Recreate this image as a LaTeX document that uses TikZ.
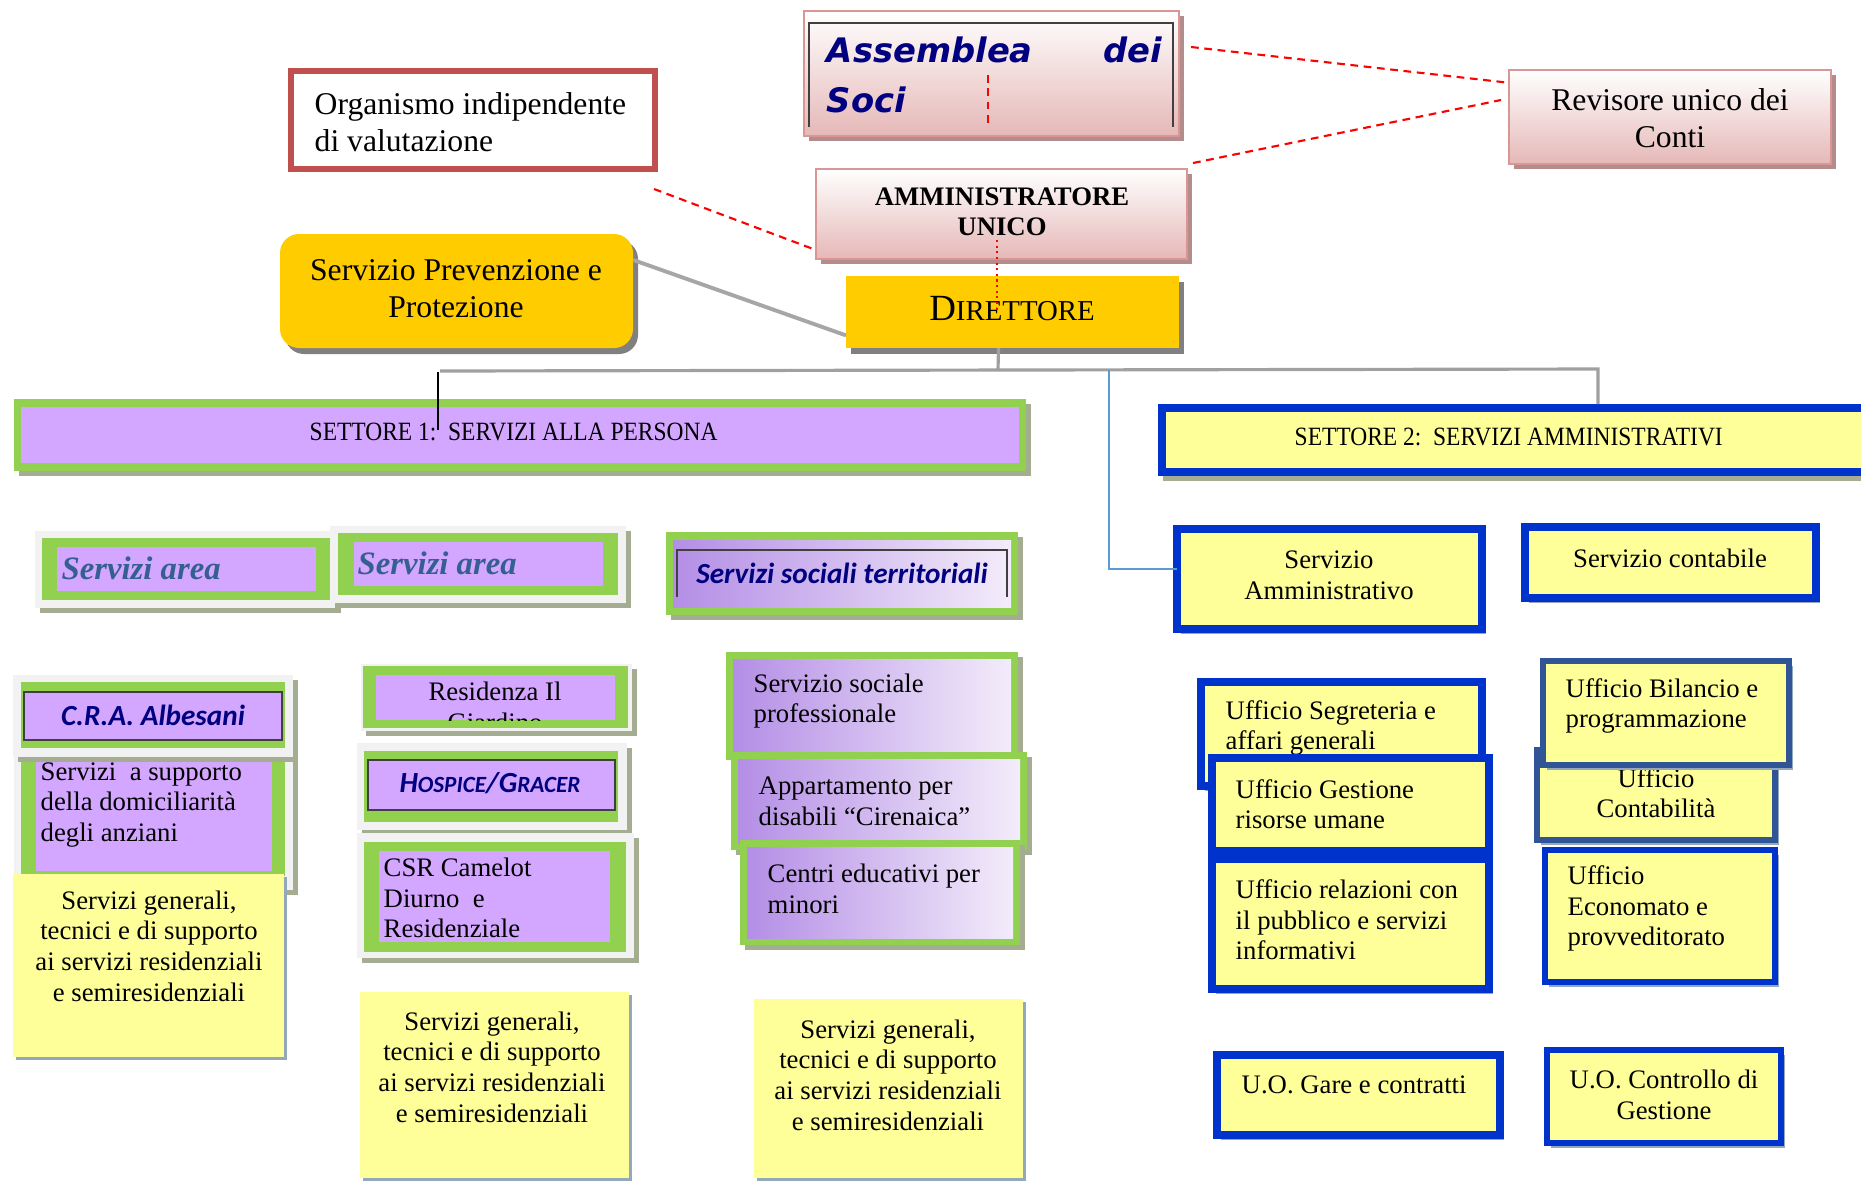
\documentclass[tikz,border=0pt]{standalone}
\usepackage{fontspec}
\setmainfont{Liberation Serif}
\newfontfamily\narrowserif{Liberation Serif}[FakeStretch=0.89]
\newfontfamily\calfont{Carlito}
\newfontfamily\assfont{DejaVu Sans Bold Oblique}
\usetikzlibrary{shadows,fit}

\definecolor{spgold}{HTML}{FFCC00}
\definecolor{grn}{HTML}{92D050}
\definecolor{lav}{HTML}{D3A6FF}
\definecolor{lavdk}{HTML}{B48EE6}
\definecolor{lavlt}{HTML}{F3ECFA}
\definecolor{yel}{HTML}{FFFF99}
\definecolor{blu}{HTML}{0033CC}
\definecolor{steel}{HTML}{2F5597}
\definecolor{frm}{HTML}{F2F2F2}
\definecolor{oliv}{HTML}{A4AD92}
\definecolor{pinkln}{HTML}{D99694}
\definecolor{pinkbt}{HTML}{E5B8B7}
\definecolor{pinksh}{HTML}{B48C8C}
\definecolor{bgray}{HTML}{93A8B8}
\definecolor{orgred}{HTML}{C0504D}
\definecolor{txtnavy}{HTML}{000080}
\definecolor{areablue}{HTML}{365F91}
\definecolor{treegray}{HTML}{A0A0A0}
\definecolor{linkblue}{HTML}{5B9BD5}

\tikzset{
  plainbox/.style={inner sep=0pt, outer sep=0pt},
  oshadow/.style={drop shadow={shadow xshift=0.05cm, shadow yshift=-0.05cm, fill=oliv, opacity=1}},
  pinkbox/.style={plainbox, draw=pinkln, line width=0.8pt, top color=white, bottom color=pinkbt,
    drop shadow={shadow xshift=0.05cm, shadow yshift=-0.05cm, fill=pinksh, opacity=1}},
  goldbox/.style={plainbox, fill=spgold,
    drop shadow={shadow xshift=0.05cm, shadow yshift=-0.06cm, fill=gray, opacity=1}},
  framebox/.style={plainbox, fill=frm, oshadow},
  greenfill/.style={plainbox, fill=grn},
  lavfill/.style={plainbox, fill=lav},
  lavgrad/.style={plainbox, left color=lavdk, right color=lavlt},
  bluebox/.style={plainbox, draw=blu, line width=0.08cm, fill=yel,
    drop shadow={shadow xshift=0.04cm, shadow yshift=-0.05cm, fill=bgray, opacity=1}},
  notebox/.style={plainbox, fill=yel,
    drop shadow={shadow xshift=0.03cm, shadow yshift=-0.03cm, fill=bgray, opacity=1}},
  txt/.style={inner sep=0pt, font=\fontsize{7.6}{8.7}\selectfont, align=left},
  bigtxt/.style={inner sep=0pt, font=\fontsize{9}{10.5}\selectfont, align=center},
  areatxt/.style={inner sep=0pt, text=areablue, font=\bfseries\itshape\fontsize{9.3}{11}\selectfont},
  caltxt/.style={inner sep=0pt, text=txtnavy, font=\calfont\bfseries\itshape\fontsize{8.3}{10}\selectfont},
  reddash/.style={red, line width=0.6pt, dash pattern=on 2.2pt off 1.6pt},
  reddot/.style={red, line width=0.6pt, densely dotted},
  tree/.style={treegray, line width=0.9pt},
  sppline/.style={gray!70, line width=1.1pt},
  blueline/.style={linkblue, line width=0.5pt}
}

\begin{document}
\begin{tikzpicture}[x=0.01cm, y=-0.01cm]
\useasboundingbox (0,0) rectangle (1861,1181);
\fill[white] (0,0) rectangle (1861,1181);

\node[pinkbox, fit={(804,11)(1179,136)}] (ass) {};
\draw[darkgray, line width=0.6pt] (809,127) -- (809,23) -- (1173,23) -- (1173,127);
\node[inner sep=0pt, text=txtnavy, font=\assfont\fontsize{9.6}{14.2}\selectfont,
  text width=3.35cm, align=justify] (asst) at (994.5,75) {Assemblea dei\linebreak Soci};

\node[pinkbox, fit={(1509,70)(1831,164)}] (rev) {};
\node[bigtxt] (revt) at (1670,118.5) {Revisore unico dei\\Conti};

\node[plainbox, draw=orgred, line width=0.06cm, fill=white, fit={(291,71)(655,169)}] (org) {};
\node[bigtxt, align=left, anchor=west] (orgt) at (314,122.5) {Organismo indipendente\\di valutazione};

\node[pinkbox, fit={(816,169)(1187,259)}] (amm) {};
\node[inner sep=0pt, font=\bfseries\fontsize{7.6}{8.5}\selectfont, align=center] (ammt) at (1002,211.5) {AMMINISTRATORE\\UNICO};

\node[goldbox, rounded corners=0.19cm, fit={(280,234)(633,348)}] (spp) {};
\node[bigtxt] (sppt) at (456,288.5) {Servizio Prevenzione e\\Protezione};

\node[goldbox, fit={(846,276)(1179,348)}] (dir) {};
\node[inner sep=0pt, anchor=base] (dirt) at (1012,320) {{\fontsize{10.5}{12}\selectfont D}{\fontsize{8.2}{10}\selectfont IRETTORE}};

\node[greenfill, oshadow, fit={(14,399)(1026,471)}] (set1) {};
\node[lavfill, fit={(21,407)(1019,463)}] (set1in) {};
\node[inner sep=0pt, anchor=west, font=\narrowserif\fontsize{7.5}{9}\selectfont] (set1t) at (309,432) {SETTORE 1:\ \ SERVIZI ALLA PERSONA};

\node[plainbox, fill=blu, oshadow, fit={(1158,404)(1900,476)}] (set2) {};
\node[plainbox, fill=yel, fit={(1166,412)(1892,468)}] (set2in) {};
\node[inner sep=0pt, anchor=west, font=\narrowserif\fontsize{7.5}{9}\selectfont] (set2t) at (1294,437) {SETTORE 2:\ \ SERVIZI AMMINISTRATIVI};

\node[framebox, fit={(35,531)(336,608)}] (area1f) {};
\node[greenfill, fit={(42,538)(330,600)}] (area1g) {};
\node[lavfill, fit={(57,547)(316,591)}] (area1) {};
\node[areatxt, anchor=west] (area1t) at (61,568) {Servizi area};

\node[framebox, fit={(330,526)(626,603)}] (area2f) {};
\node[greenfill, fit={(338,533)(618,595)}] (area2g) {};
\node[lavfill, fit={(354,542)(603,586)}] (area2) {};
\node[areatxt, anchor=west] (area2t) at (357,563) {Servizi area};

\node[greenfill, oshadow, fit={(666,532)(1018,615)}] (sstg) {};
\node[lavgrad, fit={(673,540)(1011,607)}] (sst) {};
\draw[darkgray, line width=0.6pt] (677,597) -- (677,550) -- (1007,550) -- (1007,597);
\node[caltxt] (sstt) at (842,573) {Servizi sociali territoriali};

\node[greenfill, oshadow, fit={(726,652)(1018,760)}] (sprofg) {};
\node[lavgrad, fit={(733,659)(1011,752)}] (sprof) {};
\node[txt, anchor=west] (sproft) at (753,701) {Servizio sociale\\professionale};
\node[greenfill, oshadow, fit={(731,752)(1027,850)}] (appg) {};
\node[lavgrad, fit={(738,759)(1020,843)}] (app) {};
\node[txt, anchor=west] (appt) at (758,801) {Appartamento per\\disabili “Cirenaica”};
\node[greenfill, oshadow, fit={(740,840)(1020,945)}] (centrig) {};
\node[lavgrad, fit={(747,847)(1013,938)}] (centri) {};
\node[txt, anchor=west] (centrit) at (767,889) {Centri educativi per\\minori};

\node[framebox, fit={(14,745)(293,890)}] (supf) {};
\node[greenfill, fit={(21,745)(285,876)}] (supg) {};
\node[lavfill, fit={(36,745)(272,871)}] (sup) {};
\node[txt, anchor=west] (supt) at (40,805) {Servizi\ \ a supporto\\della domiciliarità\\degli anziani};

\node[framebox, fit={(13,675)(293,757)}] (craf) {};
\node[greenfill, fit={(21,682)(285,748)}] (crag) {};
\node[plainbox, draw=darkgray, line width=0.6pt, fill=lav, fit={(24,692)(282,740)}] (cra) {};
\node[caltxt] (crat) at (153,715) {C.R.A. Albesani};

\node[notebox, fit={(13,874)(284,1057)}] (gen1) {};
\node[txt, align=center] (gen1t) at (149,946) {Servizi generali,\\tecnici e di supporto\\ai servizi residenziali\\e semiresidenziali};

\node[framebox, fit={(361,664)(632,731)}] (resf) {};
\node[greenfill, fit={(363,666)(628,728)}] (resg) {};
\node[lavfill, fit={(376,675)(615,720)}] (res) {};
\begin{scope}
\clip (376,675) rectangle (615,720);
\node[txt, align=center] (rest) at (495,707) {Residenza Il\\Giardino};
\end{scope}

\node[framebox, fit={(357,743)(627,830)}] (hosf) {};
\node[greenfill, fit={(364,751)(618,822)}] (hosg) {};
\node[plainbox, draw=darkgray, line width=0.6pt, fill=lav, fit={(368,760)(615,810)}] (hos) {};
\node[caltxt] (host) at (490,783) {H{\fontsize{6.6}{8}\selectfont OSPICE}/G{\fontsize{6.6}{8}\selectfont RACER}};

\node[framebox, fit={(357,833)(634,958)}] (csrf) {};
\node[greenfill, fit={(364,842)(626,952)}] (csrg) {};
\node[lavfill, fit={(379,851)(610,942)}] (csr) {};
\node[txt, anchor=west] (csrt) at (383,898) {CSR Camelot\\Diurno\ \ e\\Residenziale};

\node[notebox, fit={(360,992)(629,1178)}] (gen2) {};
\node[txt, align=center] (gen2t) at (492,1067) {Servizi generali,\\tecnici e di supporto\\ai servizi residenziali\\e semiresidenziali};
\node[notebox, fit={(754,999)(1023,1178)}] (gen3) {};
\node[txt, align=center] (gen3t) at (888,1075) {Servizi generali,\\tecnici e di supporto\\ai servizi residenziali\\e semiresidenziali};

\node[bluebox, fit={(1177,529)(1482,629)}] (samm) {};
\node[txt, align=center] (sammt) at (1329,575.5) {Servizio\\Amministrativo};
\node[bluebox, fit={(1525,527)(1816,598)}] (scont) {};
\node[txt] (scontt) at (1670,558) {Servizio contabile};

\node[bluebox, fit={(1201,682)(1482,786)}] (segr) {};
\node[txt, anchor=west] (segrt) at (1225,728) {Ufficio Segreteria e\\affari generali};
\node[bluebox, fit={(1212,758)(1489,851)}] (gest) {};
\node[txt, anchor=west] (gestt) at (1235,804) {Ufficio Gestione\\risorse umane};
\node[bluebox, fit={(1212,859)(1489,989)}] (rel) {};
\node[txt, anchor=west] (relt) at (1235,920) {Ufficio relazioni con\\il pubblico e servizi\\informativi};

\node[bluebox, draw=steel, line width=0.06cm, fit={(1537,750)(1775,840)}] (contab) {};
\node[txt, align=center] (contabt) at (1656,793) {Ufficio\\Contabilità};
\node[bluebox, draw=steel, line width=0.06cm, fit={(1543,661)(1789,765)}] (bil) {};
\node[txt, anchor=west] (bilt) at (1565,706) {Ufficio Bilancio e\\programmazione};
\node[bluebox, line width=0.06cm, fit={(1545,850)(1775,982)}] (econ) {};
\node[txt, anchor=west] (econt) at (1567,908.5) {Ufficio\\Economato e\\provveditorato};

\node[bluebox, fit={(1217,1055)(1500,1135)}] (gare) {};
\node[txt, anchor=west] (garet) at (1241,1085) {U.O. Gare e contratti};
\node[bluebox, line width=0.06cm, fit={(1547,1050)(1781,1143)}] (ctrl) {};
\node[txt, align=center] (ctrlt) at (1664,1095) {U.O. Controllo di\\Gestione};

\coordinate (r1) at (1191,47);
\coordinate (r2) at (1193,163);
\coordinate (r3) at (1501,100);
\coordinate (r4) at (654,189);
\coordinate (r5) at (988,75);
\coordinate (r6) at (988,125);
\coordinate (r7) at (997,240);
\coordinate (r8) at (997,312);
\coordinate (stem) at (998,370);
\coordinate (hl) at (440,371);
\coordinate (hr) at (1598,369);
\coordinate (bk0) at (438,372);
\coordinate (bk) at (438,430);
\coordinate (bt) at (1109,370);

\draw[reddash] (r1) -- (rev.168);
\draw[reddash] (r2) -- (r3);
\draw[reddash] (r4) -- (amm.191);
\draw[reddash] (r5) -- (r6);
\draw[reddot] (r7) -- (r8);
\draw[sppline] (spp.10) -- (dir.188);
\draw[tree] ([xshift=-0.14cm]dir.south) -- (stem);
\draw[tree] (hl) -- (hr) -- (hr |- set2.north);
\draw[black, line width=0.5pt] (bk0) -- (bk);
\draw[blueline] (bt) |- ([yshift=0.1cm]samm.west);
\end{tikzpicture}
\end{document}
